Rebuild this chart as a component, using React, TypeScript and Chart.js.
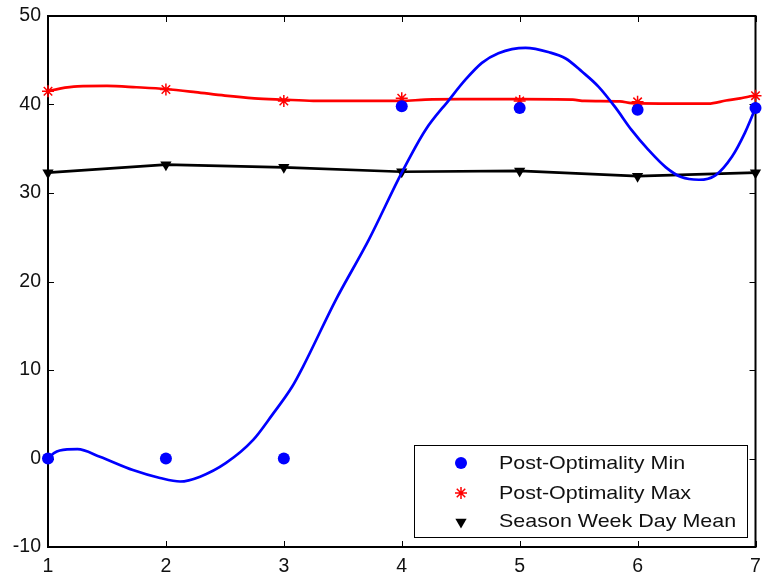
import React, { useEffect, useRef } from 'react';
import { Chart, registerables } from 'chart.js';

Chart.register(...registerables);

// ---- data ----
const days = [1, 2, 3, 4, 5, 6, 7];
const postOptMin = [0, 0, 0, 39.8, 39.6, 39.4, 39.6];
const postOptMax = [41.5, 41.7, 40.4, 40.7, 40.4, 40.3, 41.0];
const seasonMean = [32.3, 33.2, 32.9, 32.4, 32.5, 31.9, 32.3];

// fitted curve through the minimum values
const minFitX = [1.0, 1.05, 1.1, 1.25, 1.44, 1.72, 1.95, 2.12, 2.29, 2.51, 2.74, 2.9, 3.07, 3.16, 3.44, 3.72, 4.0, 4.2, 4.4, 4.54, 4.68, 4.82, 5.05, 5.25, 5.39, 5.53, 5.67, 5.81, 5.95, 6.09, 6.24, 6.37, 6.52, 6.66, 6.8, 6.91, 7.0];
const minFitY = [0.0, 0.6, 0.9, 1.05, 0.2, -1.3, -2.2, -2.6, -2.05, -0.5, 2.1, 4.9, 8.1, 10.3, 17.9, 24.7, 32.3, 37.1, 40.5, 42.8, 44.7, 45.8, 46.4, 45.9, 45.2, 43.7, 42.0, 39.7, 37.1, 34.9, 32.9, 31.8, 31.5, 32.0, 34.1, 36.8, 39.6];

// fitted curve through the maximum values
const maxFitX = [1, 1.1, 1.25, 1.5, 1.75, 2, 2.25, 2.5, 2.75, 3, 3.25, 3.5, 4, 4.2, 4.5, 5, 5.45, 5.55, 5.85, 5.95, 6.3, 6.6, 6.75, 6.87, 7];
const maxFitY = [41.5, 41.8, 42.05, 42.1, 41.95, 41.75, 41.4, 41.0, 40.7, 40.55, 40.42, 40.4, 40.4, 40.55, 40.6, 40.6, 40.55, 40.4, 40.35, 40.15, 40.1, 40.1, 40.45, 40.7, 41.05];

const xTicks = [1, 2, 3, 4, 5, 6, 7];
const yTicks = [-10, 0, 10, 20, 30, 40, 50];
const legendLabels = ['Post-Optimality Min', 'Post-Optimality Max', 'Season Week Day Mean'];

const FONT = '"Liberation Sans", Arial, Helvetica, sans-serif';
const BLUE = '#0000FF';
const RED = '#FF0000';
const BLACK = '#000000';

function drawCircle(ctx: CanvasRenderingContext2D, x: number, y: number, r: number, color: string) {
  ctx.beginPath();
  ctx.arc(x, y, r, 0, Math.PI * 2);
  ctx.fillStyle = color;
  ctx.fill();
}

function drawStar(ctx: CanvasRenderingContext2D, x: number, y: number, r: number, color: string) {
  ctx.beginPath();
  ctx.strokeStyle = color;
  ctx.lineWidth = 1.5;
  for (let i = 0; i < 4; i++) {
    const a = (i * Math.PI) / 4;
    ctx.moveTo(x + Math.sin(a) * r, y - Math.cos(a) * r);
    ctx.lineTo(x - Math.sin(a) * r, y + Math.cos(a) * r);
  }
  ctx.stroke();
}

function drawTriDown(ctx: CanvasRenderingContext2D, x: number, y: number, r: number, color: string) {
  ctx.beginPath();
  for (let i = 0; i < 3; i++) {
    const a = Math.PI + (i * 2 * Math.PI) / 3;
    const px = x + Math.sin(a) * r;
    const py = y - Math.cos(a) * r;
    if (i === 0) ctx.moveTo(px, py);
    else ctx.lineTo(px, py);
  }
  ctx.closePath();
  ctx.fillStyle = color;
  ctx.fill();
}

const framePlugin = {
  id: 'matlabFrame',
  beforeDatasetsDraw(chart: any) {
    const { ctx, chartArea: a, scales } = chart;
    ctx.save();
    ctx.strokeStyle = BLACK;
    ctx.lineWidth = 1;
    const tl = 6;
    ctx.beginPath();
    xTicks.forEach((v) => {
      const px = Math.round(scales.x.getPixelForValue(v)) + 0.5;
      ctx.moveTo(px, a.bottom);
      ctx.lineTo(px, a.bottom - tl);
      ctx.moveTo(px, a.top);
      ctx.lineTo(px, a.top + tl);
    });
    yTicks.forEach((v) => {
      const py = Math.round(scales.y.getPixelForValue(v)) + 0.5;
      ctx.moveTo(a.left, py);
      ctx.lineTo(a.left + tl, py);
      ctx.moveTo(a.right, py);
      ctx.lineTo(a.right - tl, py);
    });
    ctx.stroke();
    ctx.lineWidth = 2;
    ctx.strokeRect(a.left, a.top, a.right - a.left, a.bottom - a.top);
    ctx.restore();
  },
};

const legendPlugin = {
  id: 'matlabLegend',
  afterDraw(chart: any) {
    const { ctx, chartArea: a } = chart;
    const w = 333;
    const h = 92;
    const x0 = Math.round(a.right - 9 - w);
    const y0 = Math.round(a.bottom - 10 - h);
    ctx.save();
    ctx.fillStyle = '#ffffff';
    ctx.fillRect(x0, y0, w, h);
    ctx.strokeStyle = BLACK;
    ctx.lineWidth = 1;
    ctx.strokeRect(x0 + 0.5, y0 + 0.5, w, h);
    const rows = [18, 48, 76];
    const mx = x0 + 47;
    const tx = x0 + 85;
    drawCircle(ctx, mx, y0 + rows[0], 6, BLUE);
    drawStar(ctx, mx, y0 + rows[1], 6, RED);
    drawTriDown(ctx, mx, y0 + rows[2] + 1, 6.5, BLACK);
    ctx.fillStyle = '#111';
    ctx.font = `19px ${FONT}`;
    ctx.textBaseline = 'middle';
    ctx.textAlign = 'left';
    legendLabels.forEach((label, i) => {
      ctx.save();
      ctx.translate(tx, y0 + rows[i] + 1);
      ctx.scale(1.13, 1);
      ctx.fillText(label, 0, 0);
      ctx.restore();
    });
    ctx.restore();
  },
};

export default function App() {
  const canvasRef = useRef<HTMLCanvasElement | null>(null);

  useEffect(() => {
    const canvas = canvasRef.current;
    if (!canvas) return;
    const pts = (xs: number[], ys: number[]) => xs.map((x, i) => ({ x, y: ys[i] }));
    const chart = new Chart(canvas, {
      type: 'scatter',
      data: {
        datasets: [
          {
            label: 'min fit',
            data: pts(minFitX, minFitY),
            showLine: true,
            borderColor: BLUE,
            borderWidth: 2.7,
            pointRadius: 0,
            cubicInterpolationMode: 'monotone',
            clip: false,
            order: 3,
          } as any,
          {
            label: 'max fit',
            data: pts(maxFitX, maxFitY),
            showLine: true,
            borderColor: RED,
            borderWidth: 2.7,
            pointRadius: 0,
            cubicInterpolationMode: 'monotone',
            clip: false,
            order: 4,
          },
          {
            label: legendLabels[2],
            data: pts(days, seasonMean),
            showLine: true,
            borderColor: BLACK,
            borderWidth: 2.7,
            pointStyle: 'triangle',
            rotation: 180,
            pointRadius: 6.5,
            pointBackgroundColor: BLACK,
            pointBorderColor: BLACK,
            pointBorderWidth: 0,
            clip: false,
            order: 5,
          },
          {
            label: legendLabels[0],
            data: pts(days, postOptMin),
            showLine: false,
            pointStyle: 'circle',
            pointRadius: 6,
            pointBackgroundColor: BLUE,
            pointBorderColor: BLUE,
            pointBorderWidth: 0,
            clip: false,
            order: 1,
          },
          {
            label: legendLabels[1],
            data: pts(days, postOptMax),
            showLine: false,
            pointStyle: 'star',
            pointRadius: 6,
            pointBackgroundColor: RED,
            pointBorderColor: RED,
            pointBorderWidth: 1.5,
            clip: false,
            order: 2,
          },
        ],
      },
      options: {
        animation: false,
        responsive: true,
        maintainAspectRatio: false,
        events: [],
        layout: { padding: { top: 16, right: 6, left: 0, bottom: 0 } },
        plugins: {
          legend: { display: false },
          tooltip: { enabled: false },
        },
        scales: {
          x: {
            type: 'linear',
            min: 1,
            max: 7,
            grid: { display: false, drawTicks: false },
            border: { display: false },
            afterBuildTicks: (scale: any) => {
              scale.ticks = xTicks.map((v) => ({ value: v }));
            },
            afterFit: (scale: any) => {
              scale.height = 30;
              scale.paddingLeft = 0;
              scale.paddingRight = 0;
            },
            ticks: {
              color: '#111',
              font: { family: FONT, size: 19.5 },
              padding: 8,
              maxRotation: 0,
              autoSkip: false,
            },
          },
          y: {
            type: 'linear',
            min: -10,
            max: 50,
            grid: { display: false, drawTicks: false },
            border: { display: false },
            afterBuildTicks: (scale: any) => {
              scale.ticks = yTicks.map((v) => ({ value: v }));
            },
            afterFit: (scale: any) => {
              scale.width = 48;
              scale.paddingTop = 0;
              scale.paddingBottom = 0;
            },
            ticks: {
              color: '#111',
              font: { family: FONT, size: 19.5 },
              padding: 7,
              autoSkip: false,
            },
          },
        },
      },
      plugins: [framePlugin, legendPlugin],
    });
    return () => chart.destroy();
  }, []);

  return (
    <div style={{ position: 'absolute', left: 0, top: 0, width: 763, height: 577, background: '#fff' }}>
      <canvas ref={canvasRef} />
    </div>
  );
}
